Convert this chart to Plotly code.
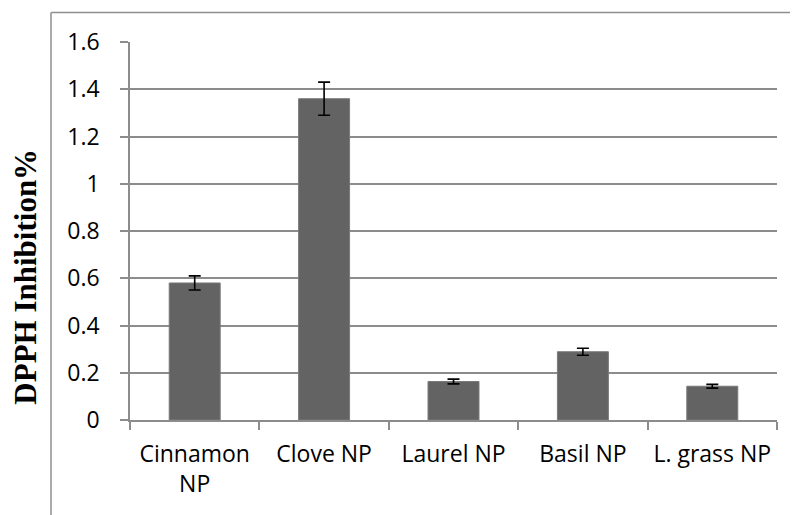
import plotly.graph_objects as go

categories = ["Cinnamon<br>NP", "Clove NP", "Laurel NP", "Basil NP", "L. grass NP"]
values = [0.58, 1.36, 0.163, 0.289, 0.143]
errors = [0.03, 0.07, 0.01, 0.015, 0.008]
y_ticks = [0, 0.2, 0.4, 0.6, 0.8, 1.0, 1.2, 1.4, 1.6]
y_ticklabels = ["0", "0.2", "0.4", "0.6", "0.8", "1", "1.2", "1.4", "1.6"]
y_title = "DPPH Inhibition%"

OFF = 8  # default page body margin
W, H = 798 - OFF, 515 - OFF
L, R, T, B = 130 - OFF, 21, 42 - OFF, 94.5
pw, ph = W - L - R, H - T - B

def px_x(px):
    return (px - OFF - L) / pw

def px_y(py):
    return (H - B - (py - OFF)) / ph

grid_col = "#8c8c8c"
tick_font = dict(family="Open Sans", size=23, color="#000000")

fig = go.Figure()
fig.add_trace(go.Bar(
    x=categories, y=values,
    marker=dict(color="#636363", line=dict(color="#7a7a7a", width=1)),
    error_y=dict(type="data", array=errors, visible=True, color="#000000",
                 thickness=1.6, width=6),
))

fig.update_layout(
    width=W, height=H,
    margin=dict(l=L, r=R, t=T, b=B),
    paper_bgcolor="white", plot_bgcolor="white",
    bargap=0.606,
    showlegend=False,
    xaxis=dict(
        showgrid=False, showline=True, linecolor=grid_col, linewidth=1.5,
        ticks="outside", tickson="boundaries", ticklen=8, tickcolor=grid_col, tickwidth=1.5,
        tickfont=tick_font, ticklabelstandoff=13,
    ),
    yaxis=dict(
        range=[0, 1.6], tickvals=y_ticks, ticktext=y_ticklabels,
        showgrid=True, gridcolor=grid_col, gridwidth=1.5,
        showline=True, linecolor=grid_col, linewidth=1.5,
        ticks="outside", ticklen=8, tickcolor=grid_col, tickwidth=1.5,
        tickfont=tick_font, ticklabelstandoff=16, zeroline=False,
    ),
    shapes=[
        dict(type="line", xref="paper", yref="paper",
             x0=px_x(51), x1=px_x(51), y0=px_y(12.5), y1=px_y(530),
             line=dict(color="#8f8f8f", width=1.5)),
        dict(type="line", xref="paper", yref="paper",
             x0=px_x(51), x1=px_x(810), y0=px_y(12.5), y1=px_y(12.5),
             line=dict(color="#8f8f8f", width=1.5)),
    ],
    annotations=[
        dict(text="<b>" + y_title + "</b>", xref="paper", yref="paper",
             x=px_x(26), y=px_y(277), textangle=-90, showarrow=False,
             xanchor="center", yanchor="middle",
             font=dict(family="Liberation Serif", size=31, color="#000000")),
    ],
)

fig.write_html("out.html")
